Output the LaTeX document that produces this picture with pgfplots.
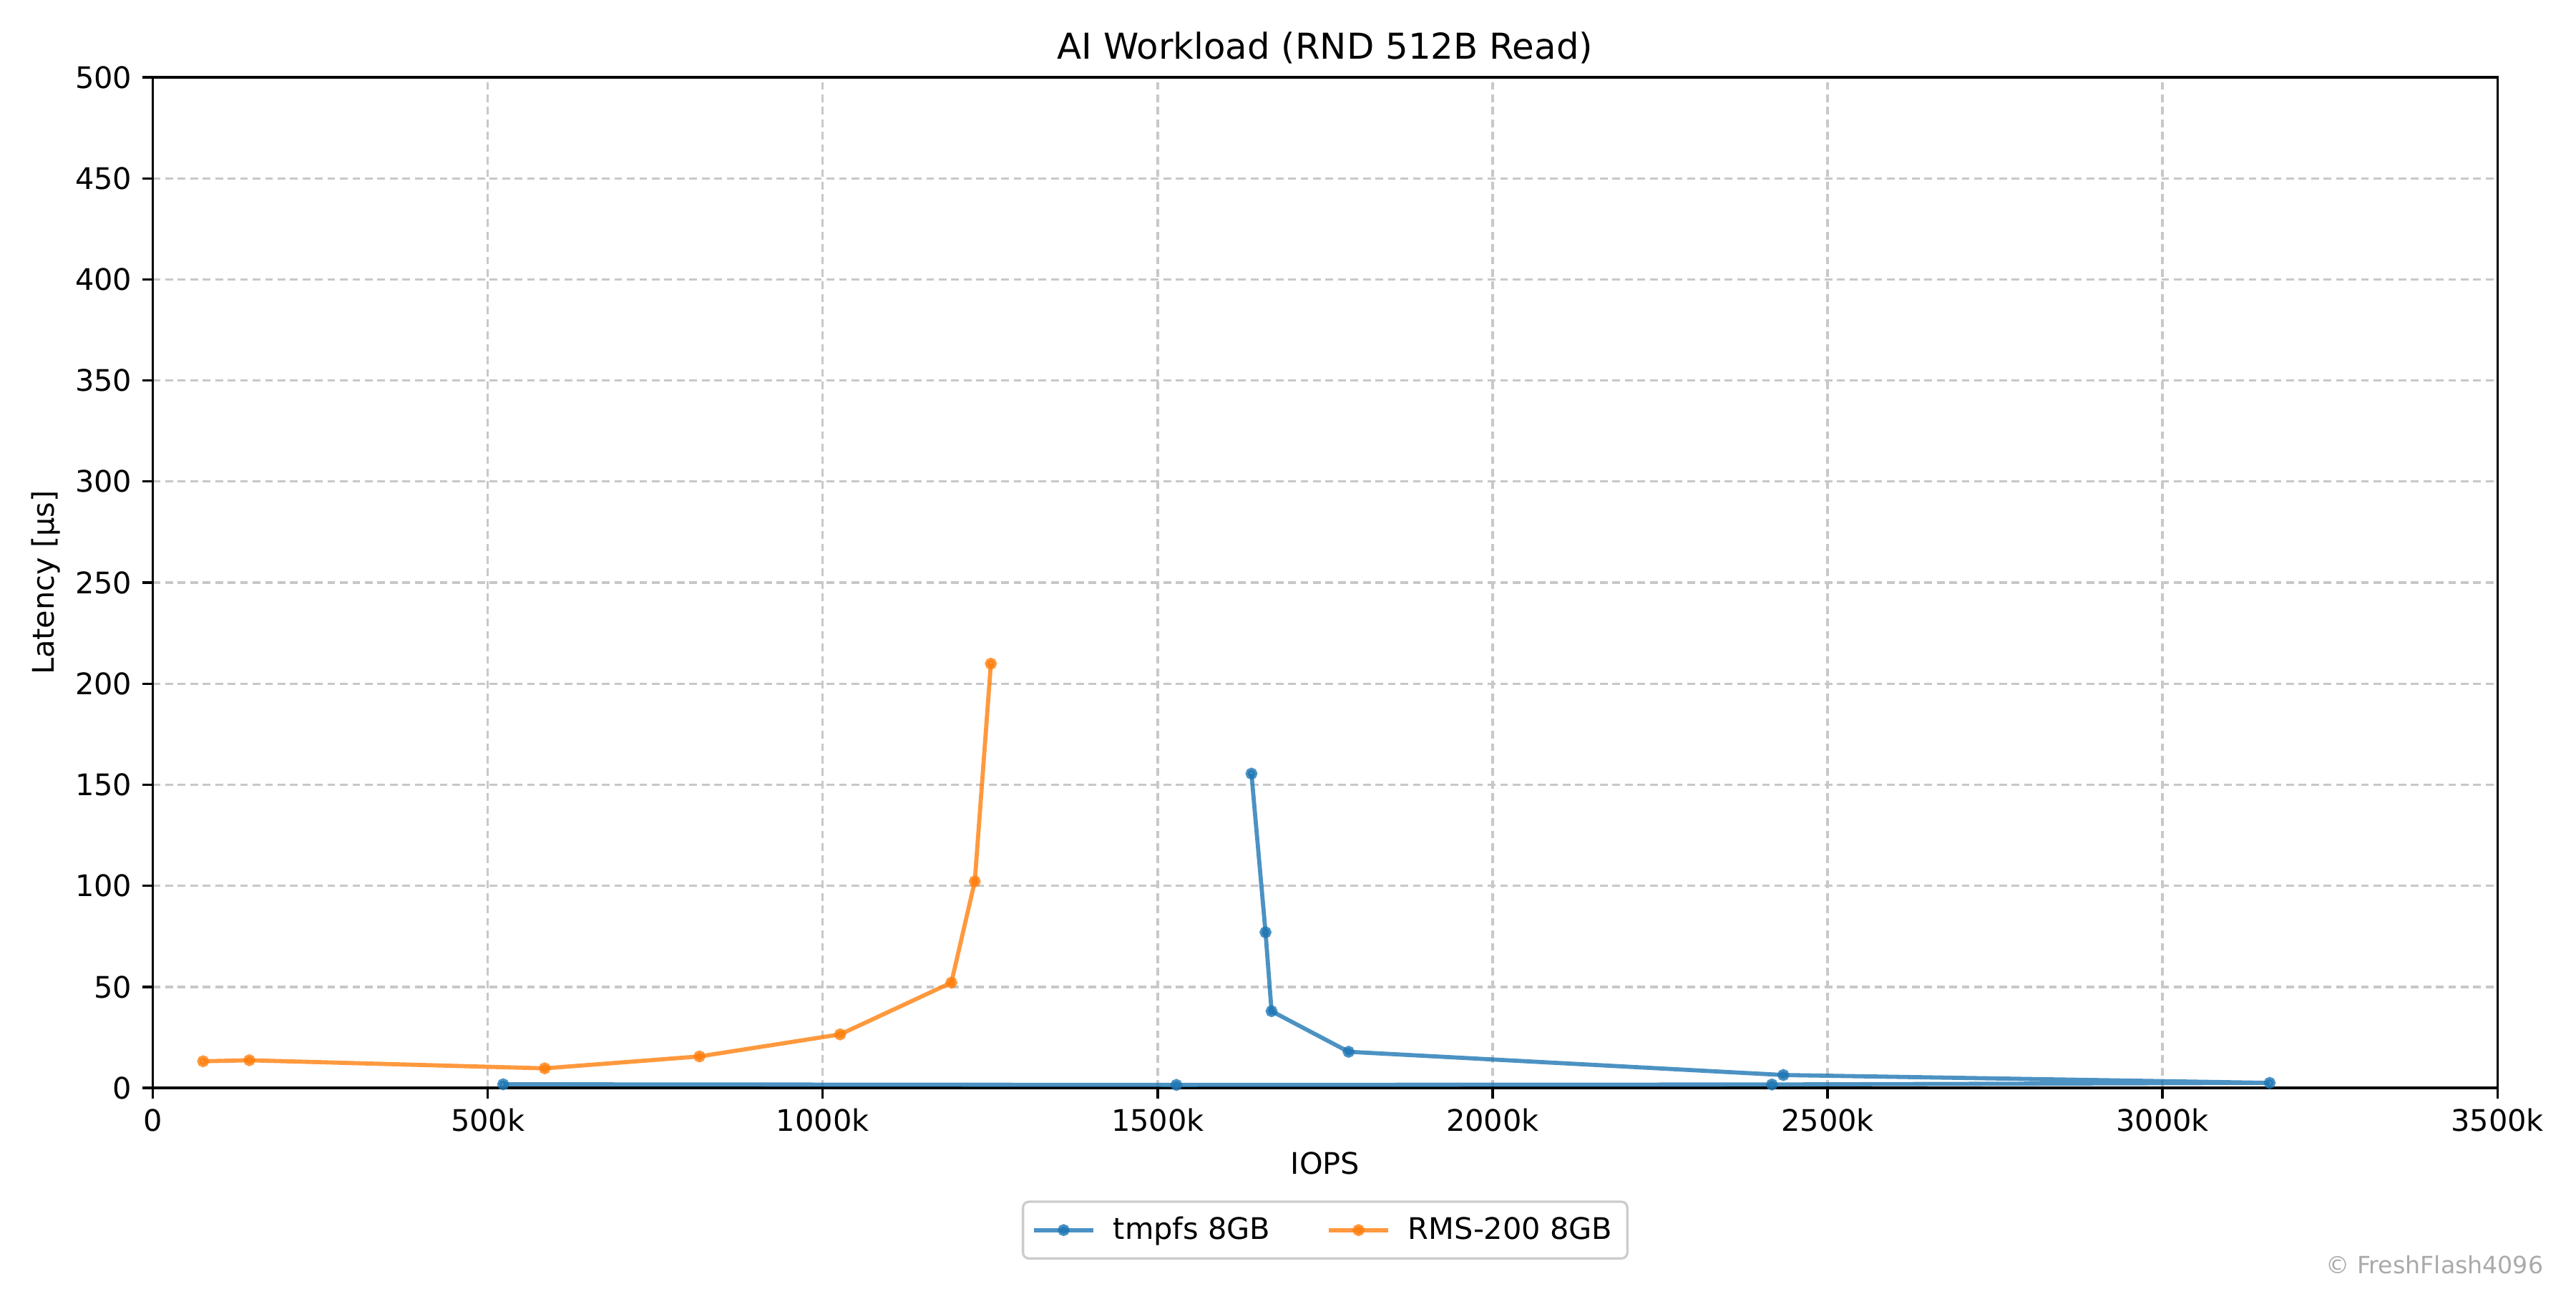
\documentclass[border=0pt]{standalone}
\usepackage{fontspec}
\setmainfont{DejaVu Sans}
\usepackage{pgfplots}
\pgfplotsset{compat=1.18}
\definecolor{tabblue}{HTML}{1F77B4}
\definecolor{taborange}{HTML}{FF7F0E}
\definecolor{gridgray}{HTML}{C8C8C8}
\definecolor{wm}{HTML}{AAAAAA}
\definecolor{legborder}{HTML}{CCCCCC}
\begin{document}
\begin{tikzpicture}
\begin{axis}[
  name=ax, at={(0,0)}, anchor=south west,
  scale only axis, width=10.922in, height=4.707in,
  xmin=0, xmax=3500, ymin=0, ymax=500,
  xtick={0,500,1000,1500,2000,2500,3000,3500},
  xticklabels={0,500k,1000k,1500k,2000k,2500k,3000k,3500k},
  ytick={0,50,100,150,200,250,300,350,400,450,500},
  grid=major,
  major grid style={gridgray, line width=0.8pt, dash pattern=on 2.6pt off 1.6pt},
  axis line style={line width=0.8pt},
  tick style={black, line width=0.8pt},
  tick align=outside, major tick length=3.5pt,
  tick pos=left,
  /pgf/number format/assume math mode=true,
  tick label style={font=\fontsize{10}{12}\selectfont},
  every axis title shift=0pt,
  title={AI Workload (RND 512B Read)},
  title style={font=\fontsize{12}{14}\selectfont, at={(axis description cs:0.5,1.029)}, anchor=center},
  xlabel={IOPS},
  ylabel={Latency [µs]},
  xlabel style={font=\fontsize{10}{12}\selectfont, at={(axis description cs:0.5,0)}, anchor=center, yshift=-25.4pt},
  ylabel style={font=\fontsize{10}{12}\selectfont, at={(axis description cs:-0.0455,0.5)}, anchor=center},
  legend columns=2,
  legend style={at={(axis description cs:0.5,0)}, anchor=north, yshift=-37.9pt,
    draw=legborder, line width=0.8pt, rounded corners=2pt,
    font=\fontsize{10}{12}\selectfont, inner xsep=3pt, inner ysep=3pt,
    /tikz/every odd column/.append style={column sep=4pt},
    /tikz/every even column/.append style={column sep=17pt}},
  legend image code/.code={\draw[mark repeat=2,mark phase=2] plot coordinates {(0pt,0pt) (10pt,0pt) (20pt,0pt)};},
]
\addplot[color=tabblue, opacity=0.8, line width=1.4pt, mark=*, mark size=1.3pt, mark options={solid}]
  coordinates {(523,1.8) (1528,1.5) (2417,1.7) (3160,2.5) (2434,6.4) (1785,17.9) (1670,38.0) (1661,77.0) (1640,155.5)};
\addlegendentry{tmpfs 8GB}
\addplot[color=taborange, opacity=0.8, line width=1.4pt, mark=*, mark size=1.3pt, mark options={solid}]
  coordinates {(75,13.2) (144,13.7) (585,9.7) (816,15.6) (1026,26.5) (1192,52.1) (1227,102.2) (1251,209.9)};
\addlegendentry{RMS-200 8GB}
\end{axis}
\node[anchor=east, text=wm, font=\fontsize{8}{9.6}\selectfont, inner sep=0pt] at ([shift={(11.138in,-0.823in)}]ax.south west) {© FreshFlash4096};
\pgfresetboundingbox
\path[use as bounding box] ([shift={(-0.712in,-0.933in)}]ax.south west) rectangle ([shift={(11.288in,5.067in)}]ax.south west);
\end{tikzpicture}
\end{document}
